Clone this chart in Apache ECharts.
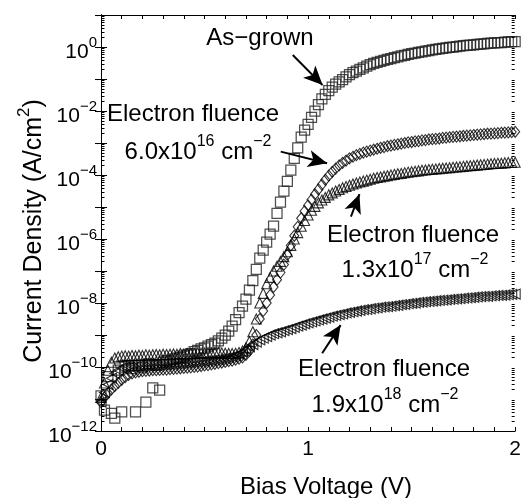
<!DOCTYPE html>
<html><head><meta charset="utf-8">
<script src="https://cdn.jsdelivr.net/npm/echarts@6/dist/echarts.min.js"></script>
<style>html,body{margin:0;padding:0;background:#fff}#c{width:524px;height:498px}</style>
</head><body><div id="c"></div>
<script>
// Bias voltage grid (V)
const voltages = Array.from({length: 121}, (_, i) => Math.round(i / 60 * 10000) / 10000);

// log10 of current density (A/cm^2)
const asGrownLog = [
-10.9,-11.35,-10.3,-11.45,-11.6,-10.1,-11.4,-10.0,-9.95,-10.05,
-11.4,-9.95,-10.0,-11.1,-9.9,-10.65,-9.95,-10.72,-9.85,-9.8,
-9.82,-9.75,-9.72,-9.7,-9.66,-9.62,-9.58,-9.52,-9.48,-9.43,
-9.4,-9.35,-9.3,-9.25,-9.18,-9.1,-9.0,-8.88,-8.72,-8.52,
-8.3,-8.1,-7.88,-7.6,-7.3,-6.95,-6.6,-6.35,-6.1,-5.85,
-5.6,-5.2,-4.85,-4.5,-4.2,-3.85,-3.48,-3.15,-2.82,-2.6,
-2.42,-2.2,-2.0,-1.8,-1.62,-1.48,-1.36,-1.25,-1.16,-1.09,
-1.02,-0.93,-0.86,-0.8,-0.75,-0.7,-0.65,-0.6,-0.55,-0.51,
-0.48,-0.45,-0.42,-0.39,-0.36,-0.33,-0.31,-0.28,-0.26,-0.23,
-0.21,-0.19,-0.17,-0.15,-0.13,-0.11,-0.09,-0.075,-0.06,-0.045,
-0.03,-0.015,0.0,0.015,0.03,0.04,0.05,0.06,0.07,0.08,
0.09,0.1,0.11,0.12,0.13,0.135,0.14,0.15,0.16,0.165,
0.17];

const fluence6e16Log = [
-11.1,-10.95,-10.82,-10.7,-10.6,-10.5,-10.4,-10.32,-10.25,-10.2,
-10.17,-10.15,-10.13,-10.12,-10.11,-10.1,-10.1,-10.09,-10.08,-10.08,
-10.07,-10.06,-10.05,-10.04,-10.03,-10.02,-10.01,-10.0,-9.99,-9.97,
-9.95,-9.94,-9.92,-9.9,-9.88,-9.86,-9.84,-9.82,-9.8,-9.77,
-9.74,-9.7,-9.62,-9.5,-9.3,-9.0,-8.5,-8.25,-8.0,-7.75,
-7.5,-7.27,-7.05,-6.8,-6.5,-6.2,-5.9,-5.62,-5.35,-5.13,
-4.95,-4.77,-4.6,-4.45,-4.3,-4.15,-4.02,-3.9,-3.8,-3.7,
-3.62,-3.55,-3.48,-3.43,-3.38,-3.34,-3.3,-3.27,-3.24,-3.21,
-3.18,-3.15,-3.13,-3.1,-3.08,-3.06,-3.04,-3.02,-3.0,-2.98,
-2.97,-2.95,-2.94,-2.92,-2.91,-2.89,-2.88,-2.87,-2.86,-2.84,
-2.83,-2.82,-2.81,-2.8,-2.79,-2.78,-2.77,-2.76,-2.75,-2.74,
-2.73,-2.72,-2.71,-2.705,-2.7,-2.69,-2.68,-2.675,-2.67,-2.66,
-2.65];

const fluence13e17Log = [
-10.95,-10.5,-10.1,-9.85,-9.72,-9.68,-9.66,-9.65,-9.66,-9.64,
-9.65,-9.63,-9.64,-9.62,-9.63,-9.62,-9.61,-9.62,-9.6,-9.61,
-9.6,-9.59,-9.6,-9.58,-9.59,-9.58,-9.57,-9.58,-9.56,-9.57,
-9.56,-9.55,-9.56,-9.55,-9.55,-9.56,-9.57,-9.58,-9.58,-9.57,
-9.55,-9.5,-9.4,-9.2,-8.9,-8.5,-8.0,-7.7,-7.4,-7.2,
-7.0,-6.85,-6.7,-6.55,-6.4,-6.2,-6.0,-5.8,-5.6,-5.42,
-5.25,-5.1,-4.98,-4.87,-4.78,-4.7,-4.62,-4.56,-4.5,-4.45,
-4.4,-4.36,-4.32,-4.28,-4.25,-4.22,-4.19,-4.16,-4.13,-4.1,
-4.08,-4.06,-4.04,-4.02,-4.0,-3.98,-3.96,-3.95,-3.93,-3.91,
-3.9,-3.88,-3.87,-3.85,-3.84,-3.83,-3.82,-3.81,-3.8,-3.79,
-3.78,-3.77,-3.76,-3.75,-3.74,-3.73,-3.72,-3.71,-3.7,-3.69,
-3.68,-3.67,-3.66,-3.65,-3.64,-3.635,-3.63,-3.62,-3.61,-3.605,
-3.6];

const fluence19e18Log = [
-11.1,-10.8,-10.55,-10.35,-10.2,-10.1,-10.02,-10.0,-9.99,-9.98,
-9.98,-9.97,-9.97,-9.96,-9.96,-9.95,-9.95,-9.94,-9.93,-9.93,
-9.92,-9.91,-9.9,-9.89,-9.88,-9.87,-9.86,-9.85,-9.84,-9.83,
-9.82,-9.81,-9.8,-9.78,-9.77,-9.75,-9.73,-9.71,-9.68,-9.65,
-9.6,-9.53,-9.45,-9.37,-9.3,-9.22,-9.15,-9.1,-9.05,-9.0,
-8.96,-8.93,-8.9,-8.86,-8.83,-8.8,-8.76,-8.72,-8.69,-8.65,
-8.62,-8.59,-8.56,-8.53,-8.5,-8.47,-8.44,-8.41,-8.39,-8.36,
-8.34,-8.31,-8.29,-8.27,-8.25,-8.23,-8.21,-8.2,-8.18,-8.16,
-8.15,-8.13,-8.12,-8.11,-8.1,-8.08,-8.07,-8.05,-8.04,-8.02,
-8.01,-8.0,-7.98,-7.97,-7.96,-7.95,-7.94,-7.93,-7.92,-7.91,
-7.9,-7.89,-7.88,-7.87,-7.86,-7.85,-7.84,-7.83,-7.82,-7.81,
-7.8,-7.795,-7.79,-7.78,-7.77,-7.765,-7.76,-7.75,-7.74,-7.73,
-7.72];

// tick labels
const xTickLabels = ['0', '1', '2'];
const yMinExp = -12, yMaxExp = 1;
const minorFactors = [2, 3, 4, 5, 6, 7, 8, 9];

// annotation arrows: [tailV, tailLog, headV, headLog]
const arrows = [
  [0.926, -0.25, 1.07, -1.19],
  [0.868, -3.27, 1.092, -3.635],
  [1.207, -5.30, 1.248, -4.60],
  [1.068, -9.57, 1.157, -8.69]
];

const FONT = 'Liberation Sans, Arial, Helvetica, sans-serif';
const INK = '#000';

function toPairs(logs) { return voltages.map((v, i) => [v, Math.pow(10, logs[i])]); }
function supExp(e) { return e < 0 ? '\u2212' + (-e) : String(e); }

const minorData = [];
for (let e = yMinExp; e < yMaxExp; e++) {
  for (const f of minorFactors) minorData.push([0, f * Math.pow(10, e)]);
}

const hollow = (c, w) => ({ color: 'rgba(0,0,0,0)', borderColor: c, borderWidth: w || 1 });

// rich styles for superscripts (equal token heights so the sup sits high)
const annRich = {
  b: {fontFamily: FONT, fontSize: 24, lineHeight: 26, padding: [10, 0, 0, 0], color: INK},
  s: {fontFamily: FONT, fontSize: 16, lineHeight: 16, padding: [5, 0, 15, 0], color: INK}
};

const chart = echarts.init(document.getElementById('c'), null, {renderer: 'canvas'});

const xAxisBase = {
  type: 'value', min: 0, max: 2, interval: 0.1,
  axisLine: {show: true, lineStyle: {color: INK, width: 1}},
  axisTick: {show: true, inside: true, length: 4, lineStyle: {color: INK}},
  splitLine: {show: false}
};
const yAxisBase = {
  type: 'log', logBase: 10, min: Math.pow(10, yMinExp), max: Math.pow(10, yMaxExp),
  axisLine: {show: true, lineStyle: {color: INK, width: 1}},
  axisTick: {show: true, inside: true, length: 6, lineStyle: {color: INK}},
  splitLine: {show: false}
};

const option = {
  backgroundColor: '#fff',
  animation: false,
  grid: {left: 101, top: 15, width: 417, height: 416, containLabel: false},
  xAxis: [
    Object.assign({}, xAxisBase, {
      position: 'bottom',
      axisLabel: {
        show: true, margin: 8, color: INK, fontFamily: FONT, fontSize: 21,
        formatter: (v) => {
          const r = Math.round(v);
          return Math.abs(v - r) < 1e-6 ? xTickLabels[r] : '';
        }
      }
    }),
    Object.assign({}, xAxisBase, {position: 'top', axisLabel: {show: false}})
  ],
  yAxis: [
    Object.assign({}, yAxisBase, {
      position: 'left', interval: 2,
      axisLabel: {
        show: true, margin: 4, color: INK, fontFamily: FONT, fontSize: 21,
        formatter: (v) => {
          const e = Math.round(Math.log10(v));
          if (e % 2 !== 0) return '';
          return '{b|10}{s|' + supExp(e) + '}';
        },
        rich: {
          b: {fontFamily: FONT, fontSize: 21, lineHeight: 24, padding: [10, 0, 0, 0], color: INK},
          s: {fontFamily: FONT, fontSize: 15, lineHeight: 15, padding: [5, 0, 14, 0], color: INK}
        }
      }
    }),
    Object.assign({}, yAxisBase, {position: 'right', interval: 1, splitNumber: 13, axisLabel: {show: false}}),
    Object.assign({}, yAxisBase, {position: 'left', interval: 1, splitNumber: 13, axisLabel: {show: false}})
  ],
  series: [
    {
      type: 'scatter', name: 'As-grown', data: toPairs(asGrownLog),
      symbol: 'rect', symbolSize: 10, itemStyle: hollow('#222', 1.25), z: 3,
      markLine: {
        silent: true, animation: false,
        symbol: ['none', 'arrow'], symbolSize: [0, 16],
        label: {show: false},
        lineStyle: {color: INK, width: 2, type: 'solid'},
        data: arrows.map(a => [
          {coord: [a[0], Math.pow(10, a[1])], symbol: 'none'},
          {coord: [a[2], Math.pow(10, a[3])], symbol: 'arrow', symbolSize: [13, 19]}
        ])
      }
    },
    {
      type: 'scatter', name: '6.0e16', data: toPairs(fluence6e16Log),
      symbol: 'diamond', symbolSize: [9, 11], itemStyle: hollow('#000', 1.1), z: 3
    },
    {
      type: 'scatter', name: '1.3e17', data: toPairs(fluence13e17Log),
      symbol: 'triangle', symbolSize: 10, itemStyle: hollow('#000', 1.1), z: 3
    },
    {
      type: 'scatter', name: '1.9e18', data: toPairs(fluence19e18Log),
      symbol: 'triangle', symbolRotate: 90, symbolSize: 10, itemStyle: hollow('#000', 1.1), z: 3
    },
    {
      type: 'custom', name: 'minorTicks', silent: true, clip: false, z: 4,
      data: minorData,
      renderItem: (params, api) => {
        const p = api.coord([0, api.value(1)]);
        const cs = params.coordSys;
        const y = Math.round(p[1]) + 0.5;
        const xl = cs.x + 0.5, xr = cs.x + cs.width - 0.5;
        return {
          type: 'group',
          children: [
            {type: 'line', shape: {x1: xl, y1: y, x2: xl + 3, y2: y}, style: {stroke: INK, lineWidth: 1}},
            {type: 'line', shape: {x1: xr, y1: y, x2: xr - 3, y2: y}, style: {stroke: INK, lineWidth: 1}}
          ]
        };
      }
    }
  ],
  graphic: [
    {type: 'text', x: 260, y: 38, style: {text: 'As\u2212grown', fontFamily: FONT, fontSize: 24, fill: INK, align: 'center', verticalAlign: 'middle'}},
    {type: 'text', x: 193, y: 114, style: {text: 'Electron fluence', fontFamily: FONT, fontSize: 24, fill: INK, align: 'center', verticalAlign: 'middle'}},
    {type: 'text', x: 198, y: 147, style: {text: '{b|6.0x10}{s|16}{b| cm}{s|\u22122}', rich: annRich, align: 'center', verticalAlign: 'middle'}},
    {type: 'text', x: 413, y: 235, style: {text: 'Electron fluence', fontFamily: FONT, fontSize: 24, fill: INK, align: 'center', verticalAlign: 'middle'}},
    {type: 'text', x: 415, y: 265, style: {text: '{b|1.3x10}{s|17}{b| cm}{s|\u22122}', rich: annRich, align: 'center', verticalAlign: 'middle'}},
    {type: 'text', x: 384, y: 369, style: {text: 'Electron fluence', fontFamily: FONT, fontSize: 24, fill: INK, align: 'center', verticalAlign: 'middle'}},
    {type: 'text', x: 385, y: 400, style: {text: '{b|1.9x10}{s|18}{b| cm}{s|\u22122}', rich: annRich, align: 'center', verticalAlign: 'middle'}},
    {type: 'text', x: 326, y: 487, style: {text: 'Bias Voltage (V)', fontFamily: FONT, fontSize: 24, fill: INK, align: 'center', verticalAlign: 'middle'}},
    {type: 'text', x: 30, y: 231, rotation: Math.PI / 2, style: {text: '{b|Current Density (A/cm}{s|2}{b|)}', align: 'center', verticalAlign: 'middle',
      rich: {
        b: {fontFamily: FONT, fontSize: 25, lineHeight: 27, padding: [8, 0, 0, 0], color: INK},
        s: {fontFamily: FONT, fontSize: 17, lineHeight: 17, padding: [3, 0, 15, 0], color: INK}
      }}}
  ]
};
chart.setOption(option);
</script></body></html>
